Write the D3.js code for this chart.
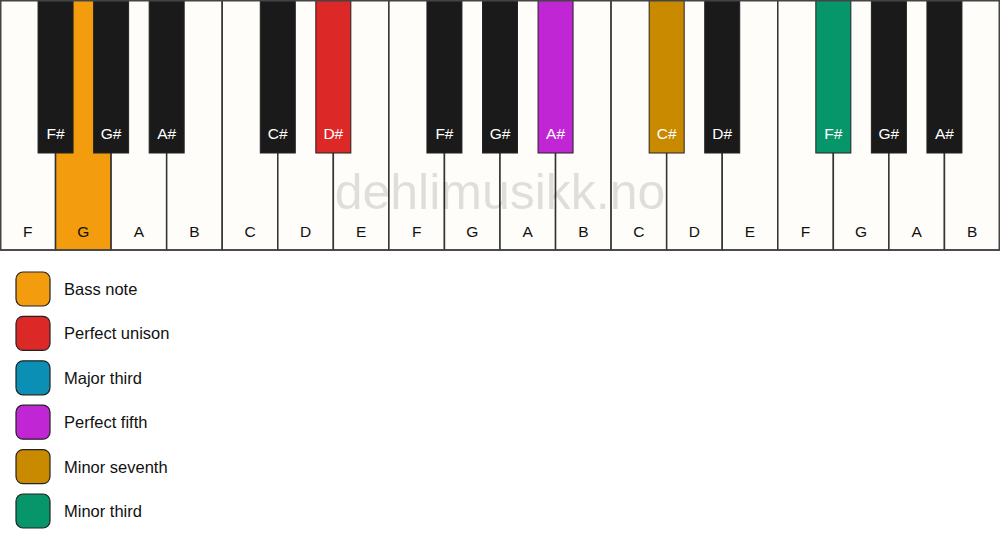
<!DOCTYPE html>
<html>
<head>
<meta charset="utf-8">
<script src="https://cdn.jsdelivr.net/npm/d3@7"></script>
<style>
  body { margin: 0; background: #fff; }
  svg { display: block; font-family: "Liberation Sans", Arial, sans-serif; }
</style>
</head>
<body>
<svg width="1000" height="550"></svg>
<script>
const width = 1000, height = 550;

// keyboard from F to B, three octaves-ish
const whiteNotes = ["F","G","A","B","C","D","E","F","G","A","B","C","D","E","F","G","A","B"];
// black key sits on the boundary after white key index
const blackAfter = [0, 1, 2, 4, 5, 7, 8, 9, 11, 12, 14, 15, 16];
const blackNotes = ["F#","G#","A#","C#","D#","F#","G#","A#","C#","D#","F#","G#","A#"];

// highlighted keys (index into whiteNotes / blackNotes) and their role
const whiteRoles = {1: "Bass note"};
const blackRoles = {4: "Perfect unison", 7: "Perfect fifth", 8: "Minor seventh", 10: "Minor third"};

const legendNames = ["Bass note", "Perfect unison", "Major third", "Perfect fifth", "Minor seventh", "Minor third"];
const legendColors = ["#F39C0E", "#DD2828", "#0B8FB4", "#C026D3", "#C98A00", "#07966A"];

const roleColor = d3.scaleOrdinal().domain(legendNames).range(legendColors);

const svg = d3.select("svg");

const kbTop = 0, kbHeight = 250, blackHeight = 153, blackWidth = 35;

const x = d3.scaleBand()
    .domain(d3.range(whiteNotes.length))
    .range([0, width])
    .padding(0);

const kb = svg.append("g").attr("class", "keyboard");

// white keys
kb.selectAll(".white")
    .data(whiteNotes)
    .join("rect")
    .attr("class", "white")
    .attr("x", (d, i) => x(i))
    .attr("y", kbTop)
    .attr("width", x.bandwidth())
    .attr("height", kbHeight)
    .attr("fill", (d, i) => whiteRoles[i] ? roleColor(whiteRoles[i]) : "#FFFDF9")
    .attr("stroke", "#333")
    .attr("stroke-width", 1.5);

// watermark
kb.append("text")
    .attr("x", width / 2)
    .attr("y", 209)
    .attr("text-anchor", "middle")
    .attr("font-size", "50px")
    .attr("fill", "#000")
    .attr("fill-opacity", 0.12)
    .text("dehlimusikk.no");

kb.selectAll(".white-label")
    .data(whiteNotes)
    .join("text")
    .attr("class", "white-label")
    .attr("x", (d, i) => x(i) + x.bandwidth() / 2)
    .attr("y", 237)
    .attr("text-anchor", "middle")
    .attr("font-size", "15.5px")
    .attr("fill", "#111")
    .text(d => d);

// black keys
const blacks = blackNotes.map((n, i) => ({note: n, pos: blackAfter[i], role: blackRoles[i]}));

kb.selectAll(".black")
    .data(blacks)
    .join("rect")
    .attr("class", "black")
    .attr("x", d => x(d.pos) + x.bandwidth() - blackWidth / 2)
    .attr("y", kbTop)
    .attr("width", blackWidth)
    .attr("height", blackHeight)
    .attr("fill", d => d.role ? roleColor(d.role) : "#1A1A1A")
    .attr("stroke", "#222")
    .attr("stroke-width", 1);

kb.selectAll(".black-label")
    .data(blacks)
    .join("text")
    .attr("class", "black-label")
    .attr("x", d => x(d.pos) + x.bandwidth())
    .attr("y", 139)
    .attr("text-anchor", "middle")
    .attr("font-size", "15.5px")
    .attr("fill", "#fff")
    .text(d => d.note);

// outer border
kb.append("rect")
    .attr("x", 0.75)
    .attr("y", 0.75)
    .attr("width", width - 1.5)
    .attr("height", kbHeight - 0.75)
    .attr("fill", "none")
    .attr("stroke", "#444")
    .attr("stroke-width", 1.5);

// legend
const legend = svg.append("g").attr("transform", "translate(16, 272)");
const ly = d3.scalePoint().domain(legendNames).range([0, 222]);

const item = legend.selectAll(".key-item")
    .data(legendNames)
    .join("g")
    .attr("class", "key-item")
    .attr("transform", d => `translate(0, ${ly(d)})`);

item.append("rect")
    .attr("width", 34)
    .attr("height", 34)
    .attr("rx", 7)
    .attr("fill", d => roleColor(d))
    .attr("stroke", "#222")
    .attr("stroke-width", 1.2);

item.append("text")
    .attr("x", 48)
    .attr("y", 23)
    .attr("font-size", "16.5px")
    .attr("fill", "#111")
    .text(d => d);
</script>
</body>
</html>
